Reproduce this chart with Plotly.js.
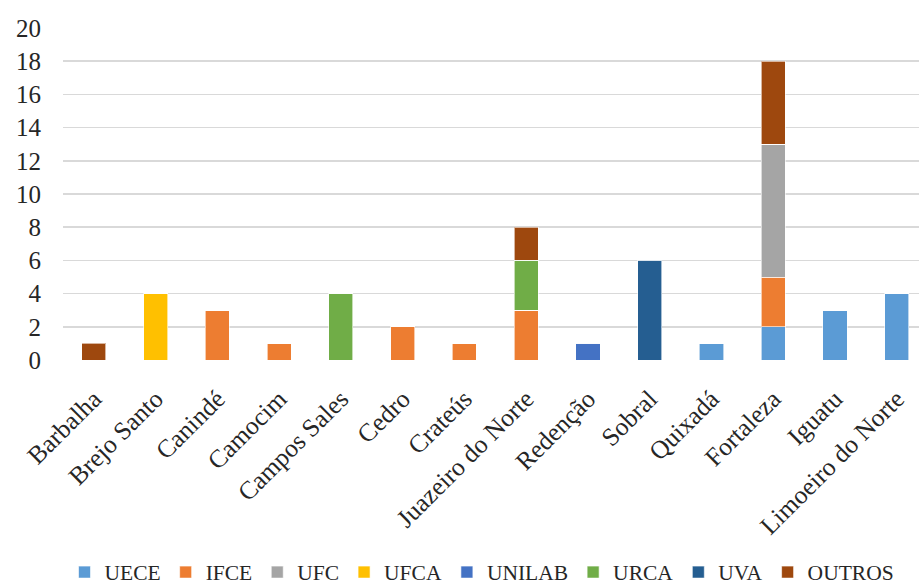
<!DOCTYPE html>
<html><head><meta charset="utf-8">
<script src="https://cdn.plot.ly/plotly-3.0.1.min.js"></script>
<style>html,body{margin:0;padding:0;overflow:hidden;background:#fff}</style>
</head><body><div id="chart"></div>
<script>
const categories = ["Barbalha","Brejo Santo","Canindé","Camocim","Campos Sales","Cedro","Crateús","Juazeiro do Norte","Redenção","Sobral","Quixadá","Fortaleza","Iguatu","Limoeiro do Norte"];
const seriesNames = ["UECE","IFCE","UFC","UFCA","UNILAB","URCA","UVA","OUTROS"];
const UECE   = [0,0,0,0,0,0,0,0,0,0,1,2,3,4];
const IFCE   = [0,0,3,1,0,2,1,3,0,0,0,3,0,0];
const UFC    = [0,0,0,0,0,0,0,0,0,0,0,8,0,0];
const UFCA   = [0,4,0,0,0,0,0,0,0,0,0,0,0,0];
const UNILAB = [0,0,0,0,0,0,0,0,1,0,0,0,0,0];
const URCA   = [0,0,0,0,4,0,0,3,0,0,0,0,0,0];
const UVA    = [0,0,0,0,0,0,0,0,0,6,0,0,0,0];
const OUTROS = [1,0,0,0,0,0,0,2,0,0,0,5,0,0];
const seriesValues = [UECE,IFCE,UFC,UFCA,UNILAB,URCA,UVA,OUTROS];
const colors = ["#5B9BD5","#ED7D31","#A5A5A5","#FFC000","#4472C4","#70AD47","#255E91","#9E480E"];
const yTicks = [0,2,4,6,8,10,12,14,16,18,20];

const fam = "Liberation Serif";
const yFont = {family:fam, size:25, color:"#262626"};
const xFont = {family:fam, size:25.5, color:"#262626"};
const legFont = {family:fam, size:21.5, color:"#262626"};
const traces = seriesNames.map((n,i)=>({
  type:"bar", name:n, x:categories, y:seriesValues[i],
  marker:{color:colors[i], line:{color:"rgba(255,255,255,0.6)", width:1}},
  hoverinfo:"x+y+name"
}));
const layout = {
  width:919, height:588, barmode:"stack", bargap:0.61,
  margin:{l:63, r:0, t:28, b:228},
  paper_bgcolor:"#fff", plot_bgcolor:"#fff",
  font:xFont,
  xaxis:{type:"category", range:[-0.5,13.36], tickangle:-45, tickfont:xFont, showgrid:false, zeroline:false, showline:false, ticks:"", automargin:false, ticklabelstandoff:18},
  yaxis:{range:[0,20], tickvals:yTicks, tickfont:yFont, gridcolor:"#d9d9d9", gridwidth:1.5, zeroline:false, showline:false, ticks:"", ticklabelstandoff:21, automargin:false},
  showlegend:true,
  legend:{orientation:"h", xref:"container", x:0.5245, xanchor:"center", yref:"container", y:0.027, yanchor:"middle", font:legFont, traceorder:"normal", itemwidth:30, tracegroupgap:0, borderwidth:0}
};
Plotly.newPlot("chart", traces, layout, {displayModeBar:false, staticPlot:true});
</script></body></html>
